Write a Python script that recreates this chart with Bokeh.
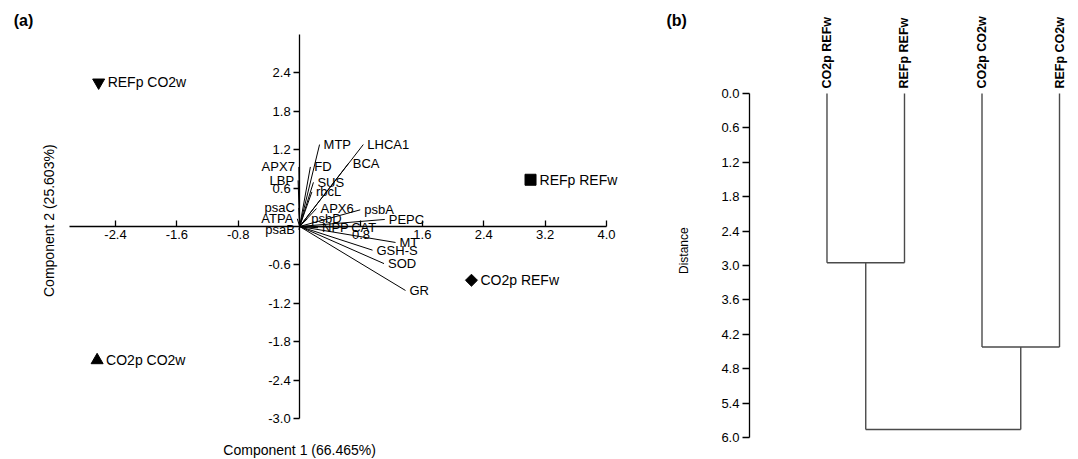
import math
from bokeh.plotting import figure
from bokeh.models import (LinearAxis, FixedTicker, NumeralTickFormatter, Range1d,
                          Label, ColumnDataSource)
from bokeh.layouts import row
from bokeh.embed import file_html
from bokeh.resources import INLINE
from bokeh.core.properties import value

FONT = "Liberation Sans"

# ---------------- data: PCA biplot ----------------
groups = ["REFp CO2w", "REFp REFw", "CO2p REFw", "CO2p CO2w"]
score_pc1 = [-2.62, 3.01, 2.24, -2.64]
score_pc2 = [2.25, 0.73, -0.84, -2.09]
group_markers = ["inverted_triangle", "square", "square", "triangle"]
group_sizes = [12, 11, 8.5, 12]
group_angles = [0, 0, math.pi / 4, 0]

variables = ["MTP", "LHCA1", "BCA", "FD", "APX7", "LBP", "SUS", "rbcL", "psaC",
             "ATPA", "APX6", "psbD", "psbA", "PEPC", "psaB", "NPP", "CAT", "MT",
             "GSH-S", "SOD", "GR"]
load_pc1 = [0.26, 0.83, 0.64, 0.14, -0.01, -0.02, 0.18, 0.16, -0.01,
            -0.03, 0.22, 0.10, 0.79, 1.11, -0.01, 0.24, 0.62, 1.25,
            0.95, 1.10, 1.38]
load_pc2 = [1.28, 1.28, 0.99, 0.93, 0.93, 0.72, 0.69, 0.54, 0.29,
            0.12, 0.28, 0.12, 0.26, 0.11, -0.05, -0.02, -0.01, -0.25,
            -0.37, -0.58, -1.00]

x_ticks = [-2.4, -1.6, -0.8, 0.8, 1.6, 2.4, 3.2, 4.0]
y_ticks = [-3.0, -2.4, -1.8, -1.2, -0.6, 0.6, 1.2, 1.8, 2.4]
x_label = "Component 1 (66.465%)"
y_label = "Component 2 (25.603%)"

# ---------------- data: dendrogram ----------------
leaves = ["CO2p REFw", "REFp REFw", "CO2p CO2w", "REFp CO2w"]
merge_heights = [2.95, 4.42, 5.86]
dist_ticks = [0.0, 0.6, 1.2, 1.8, 2.4, 3.0, 3.6, 4.2, 4.8, 5.4, 6.0]

# ======================= panel (a) =======================
p1 = figure(width=640, height=459,
            x_range=Range1d(-3.8995, 4.4436), y_range=Range1d(-3.641, 3.531),
            x_axis_type=None, y_axis_type=None,
            output_backend="svg", toolbar_location=None, min_border=0)
p1.outline_line_color = None
p1.background_fill_color = "white"

xaxis = LinearAxis(fixed_location=0, bounds=(-3.0, 4.0),
                   ticker=FixedTicker(ticks=x_ticks),
                   formatter=NumeralTickFormatter(format="0.0"),
                   major_tick_in=6, major_tick_out=0,
                   minor_tick_line_color=None,
                   axis_line_width=1.3, major_tick_line_width=1.3,
                   major_label_text_font=FONT, major_label_text_font_size="13px",
                   major_label_text_color="black", major_label_standoff=4)
p1.add_layout(xaxis, "below")
yaxis = LinearAxis(fixed_location=0, bounds=(-3.0, 3.0),
                   ticker=FixedTicker(ticks=y_ticks),
                   formatter=NumeralTickFormatter(format="0.0"),
                   major_tick_in=0, major_tick_out=6,
                   minor_tick_line_color=None,
                   axis_line_width=1.3, major_tick_line_width=1.3,
                   major_label_text_font=FONT, major_label_text_font_size="13px",
                   major_label_text_color="black", major_label_standoff=3)
p1.add_layout(yaxis, "left")

load_src = ColumnDataSource(dict(x=load_pc1, y=load_pc2, name=variables))
p1.segment(x0=0, y0=0, x1="x", y1="y", source=load_src,
           line_color="black", line_width=1.0)

pos = [i for i, v in enumerate(load_pc1) if v >= 0]
neg = [i for i, v in enumerate(load_pc1) if v < 0]
src_pos = ColumnDataSource(dict(x=[load_pc1[i] for i in pos], y=[load_pc2[i] for i in pos],
                                name=[variables[i] for i in pos]))
src_neg = ColumnDataSource(dict(x=[load_pc1[i] for i in neg], y=[load_pc2[i] for i in neg],
                                name=[variables[i] for i in neg]))
p1.text(x="x", y="y", text="name", source=src_pos, text_align="left",
        text_baseline="middle", x_offset=4, text_font=value(FONT),
        text_font_size="13px", text_color="black")
p1.text(x="x", y="y", text="name", source=src_neg, text_align="right",
        text_baseline="middle", x_offset=-4, text_font=value(FONT),
        text_font_size="13px", text_color="black")

score_src = ColumnDataSource(dict(x=score_pc1, y=score_pc2, name=groups,
                                  marker=group_markers, size=group_sizes,
                                  angle=group_angles))
p1.scatter(x="x", y="y", marker="marker", size="size", angle="angle",
           source=score_src, fill_color="black", line_color="black")
p1.text(x="x", y="y", text="name", source=score_src, text_align="left",
        text_baseline="middle", x_offset=9, text_font=value(FONT),
        text_font_size="14px", text_color="black")

p1.add_layout(Label(x=0.0, y=-3.49, text=x_label, text_align="center",
                    text_baseline="middle", text_font=FONT, text_font_size="14px",
                    text_color="black"))
p1.add_layout(Label(x=-3.27, y=0.09, text=y_label, text_align="center",
                    text_baseline="middle", angle=1.5708, text_font=FONT,
                    text_font_size="14px", text_color="black"))
p1.add_layout(Label(x=-3.60, y=3.22, text="(a)", text_align="center",
                    text_baseline="middle", text_font=FONT, text_font_size="16px",
                    text_font_style="bold", text_color="black"))

# ======================= panel (b) =======================
p2 = figure(width=438, height=459,
            x_range=Range1d(-1.406, 4.245), y_range=Range1d(6.382, -1.622),
            x_axis_type=None, y_axis_type=None,
            output_backend="svg", toolbar_location=None, min_border=0)
p2.outline_line_color = None

daxis = LinearAxis(fixed_location=0, bounds=(0.0, 6.0),
                   ticker=FixedTicker(ticks=dist_ticks),
                   formatter=NumeralTickFormatter(format="0.0"),
                   major_tick_in=0, major_tick_out=7,
                   minor_tick_line_color=None,
                   axis_line_width=1.3, major_tick_line_width=1.3,
                   major_label_text_font=FONT, major_label_text_font_size="13px",
                   major_label_text_color="black", major_label_standoff=3)
p2.add_layout(daxis, "left")

pos_leaf = [1, 2, 3, 4]
h_a, h_b, h_root = merge_heights
c_a = (pos_leaf[0] + pos_leaf[1]) / 2
c_b = (pos_leaf[2] + pos_leaf[3]) / 2
x0 = [pos_leaf[0], pos_leaf[1], pos_leaf[0], pos_leaf[2], pos_leaf[3], pos_leaf[2], c_a, c_b, c_a]
y0 = [0, 0, h_a, 0, 0, h_b, h_a, h_b, h_root]
x1 = [pos_leaf[0], pos_leaf[1], pos_leaf[1], pos_leaf[2], pos_leaf[3], pos_leaf[3], c_a, c_b, c_b]
y1 = [h_a, h_a, h_a, h_b, h_b, h_b, h_root, h_root, h_root]
p2.segment(x0=x0, y0=y0, x1=x1, y1=y1, line_color="#4a4a4a", line_width=1.4)

leaf_src = ColumnDataSource(dict(x=pos_leaf, y=[0] * 4, name=leaves))
p2.text(x="x", y="y", text="name", source=leaf_src, angle=1.5708,
        text_align="left", text_baseline="middle", y_offset=-5,
        text_font=value(FONT), text_font_size="12.5px", text_font_style="bold",
        text_color="black")

p2.add_layout(Label(x=-0.85, y=2.74, text="Distance", text_align="center",
                    text_baseline="middle", angle=1.5708, text_font=FONT,
                    text_font_size="12px", text_color="black"))
p2.add_layout(Label(x=-0.94, y=-1.28, text="(b)", text_align="center",
                    text_baseline="middle", text_font=FONT, text_font_size="16px",
                    text_font_style="bold", text_color="black"))

layout = row(p1, p2)
open("out.html", "w").write(file_html(layout, INLINE))
